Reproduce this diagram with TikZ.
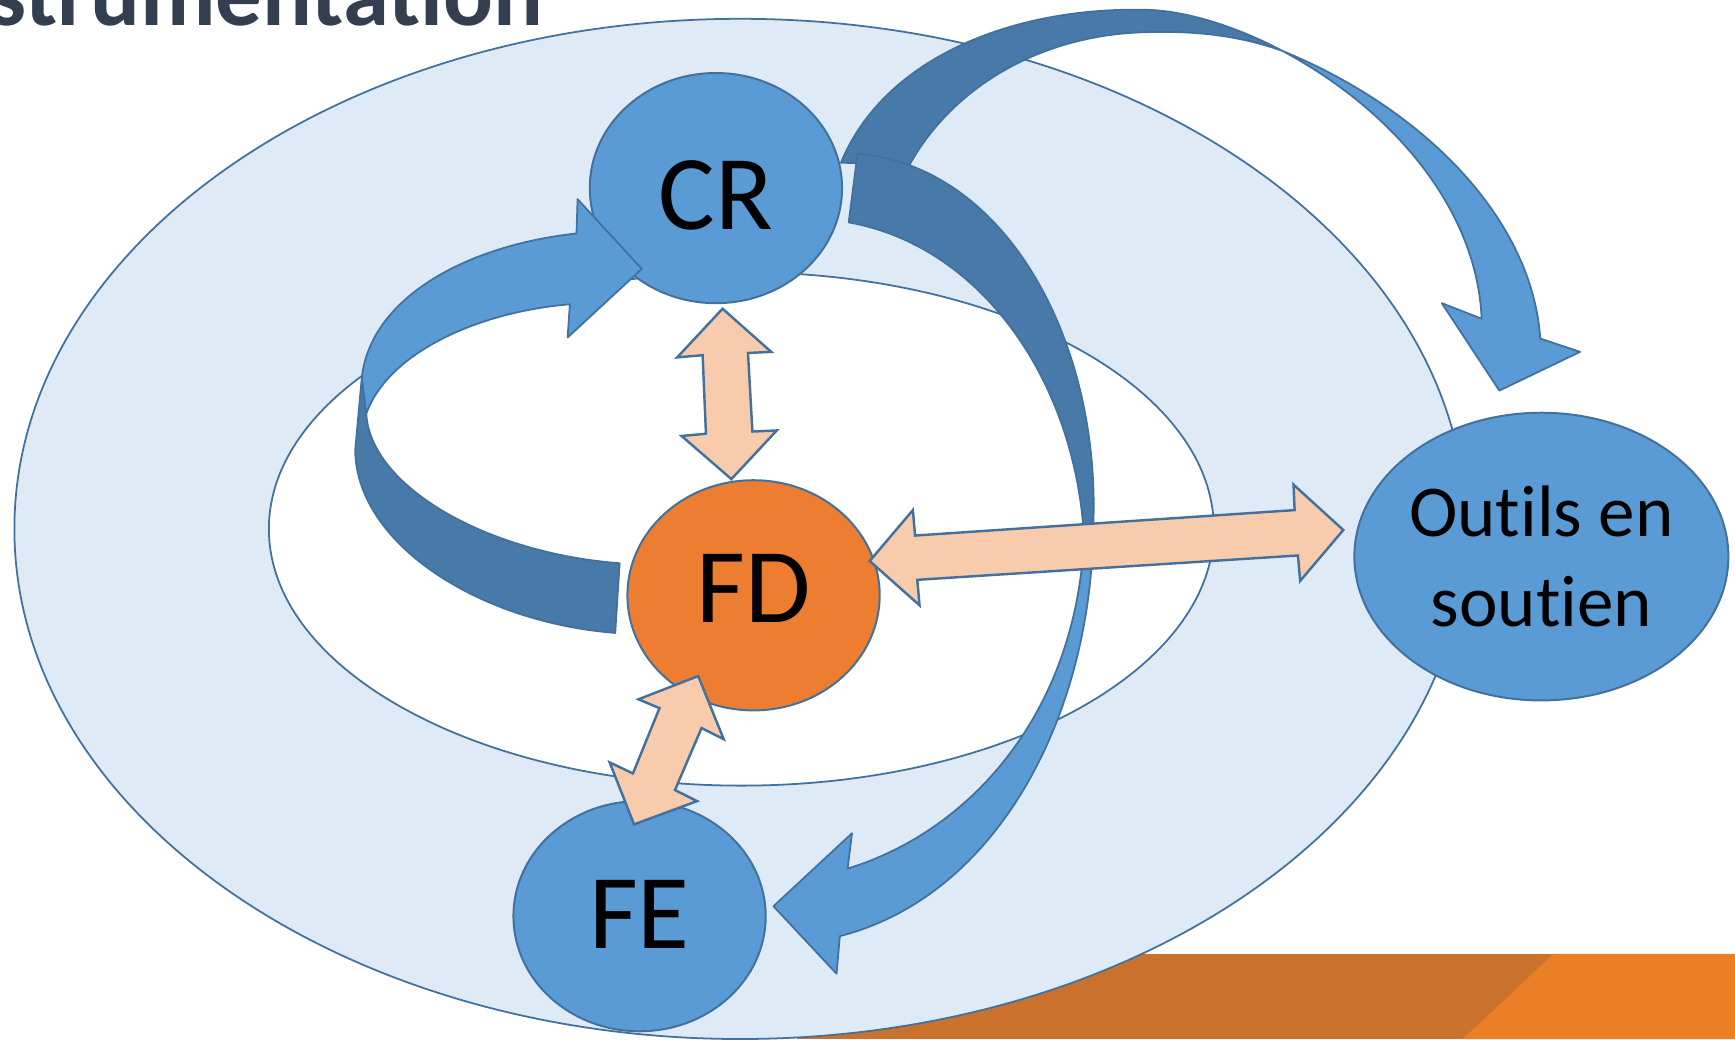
\documentclass[tikz,border=0pt]{standalone}
\usepackage{fontspec}
\setmainfont{Carlito}[Ligatures=NoCommon]
\usetikzlibrary{shapes.geometric}
\definecolor{edge}{RGB}{65,113,156}
\definecolor{nodeblue}{RGB}{91,155,213}
\definecolor{bandback}{RGB}{71,122,168}
\definecolor{halo}{RGB}{222,235,247}
\definecolor{peach}{RGB}{248,203,173}
\definecolor{fdorange}{RGB}{237,125,49}
\definecolor{titlecol}{RGB}{51,63,80}
\definecolor{barleft}{RGB}{201,113,45}
\definecolor{barright}{RGB}{234,127,38}
\begin{document}
\begin{tikzpicture}[x=1pt,y=-1pt,
  bubble/.style={ellipse, draw=edge, line width=1.8pt, fill=nodeblue, inner sep=0pt, text=black,
                 minimum width=228pt, minimum height=208pt},
  bigfont/.style={font=\fontsize{96}{110}\selectfont},
  ring/.style={draw=edge, line width=1.6pt},
  bandfront/.style={fill=nodeblue, draw=edge, line width=1.6pt, line join=round},
  bandrear/.style={fill=bandback, draw=edge, line width=1.6pt, line join=round},
  duplex/.style={fill=peach, draw=edge, line width=2.2pt, line join=miter},
]
\useasboundingbox (0,0) rectangle (1568,939);

% footer bar
\fill[barleft] (720,862) rectangle (1568,939);
\fill[barright] (1404,862) -- (1568,862) -- (1568,939) -- (1322,939) -- cycle;

% outer and inner rings
\path[ring, fill=halo] (669,478) ellipse [x radius=656, y radius=461];
\path[ring, fill=white] (670,478) ellipse [x radius=427, y radius=232];

% title
\node[anchor=base west, inner sep=0pt, text=titlecol,
      font=\bfseries\fontsize{84}{84}\selectfont] (title) at (-10,23) {strumentation};

% nodes
\node[bubble, bigfont, text height=74pt, text depth=0pt] (CR) at (647,170) {CR};
\node[bubble, bigfont, fill=fdorange, text height=50pt, text depth=0pt] (FD) at (681,538) {FD};
\node[bubble, bigfont, text height=58pt, text depth=0pt] (FE) at (578,828) {FE};
\node[bubble, minimum width=330pt, minimum height=260pt, align=center,
      font=\fontsize{66}{81.5}\selectfont] (OES) at (1393,503) {Outils en\\soutien};

% CR -> Outils en soutien (top curved arrow)
\path[bandrear] (760,147) .. controls (800,50) and (920,5) .. (1040,9)
  .. controls (1080,11) and (1125,28) .. (1159,46)
  .. controls (1120,32) and (1080,28) .. (1040,29)
  .. controls (940,30) and (860,80) .. (822,149) -- cycle;
\path[bandfront] (1159,46) .. controls (1290,100) and (1385,200) .. (1392,306)
  -- (1428,318) -- (1355,353) -- (1303,274) -- (1339,288)
  .. controls (1335,190) and (1260,100) .. (1159,46) -- cycle;

% CR -> FE (right curved arrow)
\path[bandrear] (775,139) .. controls (910,150) and (995,310) .. (988,476)
  -- (979,476) .. controls (968,340) and (885,222) .. (767,201) -- cycle;
\path[bandfront] (988,480) .. controls (985,650) and (900,810) .. (759,846)
  -- (756,880) -- (699,819) -- (770,753) -- (766,785)
  .. controls (880,750) and (975,640) .. (980,480) -- cycle;

% FD -> CR (left curved arrow)
\path[bandrear] (327,341) -- (321,407) .. controls (322,490) and (430,562) .. (556,572)
  -- (560,509) .. controls (440,500) and (335,440) .. (331,374) -- cycle;
\path[bandfront] (327,341) .. controls (335,270) and (420,222) .. (521,211)
  -- (522,180) -- (580,243) -- (513,305) -- (515,275)
  .. controls (430,282) and (350,320) .. (331,374) -- cycle;

% double block arrows
\path[duplex] (653,279) -- (697,318) -- (676,319) -- (680,390) -- (702,389) -- (661,433)
  -- (616,394) -- (638,392) -- (635,321) -- (612,323) -- cycle;
\path[duplex] (786,507) -- (825,461) -- (827,484) -- (1170,461) -- (1169,438) -- (1214,479)
  -- (1175,525) -- (1173,502) -- (829,524) -- (831,547) -- cycle;
\path[duplex] (631,611) -- (654,668) -- (634,658) -- (610,714) -- (630,724) -- (573,745)
  -- (551,689) -- (572,699) -- (596,640) -- (577,632) -- cycle;
\end{tikzpicture}
\end{document}
